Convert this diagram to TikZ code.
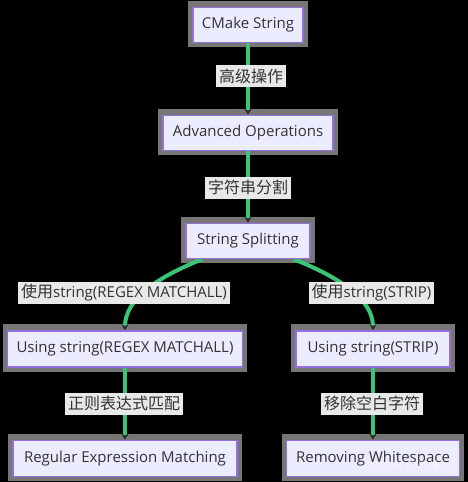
\documentclass[tikz,border=0pt]{standalone}
\usepackage{fontspec}
\setmainfont{Open Sans}
\newfontfamily\cjk{Noto Sans CJK SC}
\usetikzlibrary{arrows.meta}
\pgfdeclarelayer{bg}\pgfdeclarelayer{halo}\pgfdeclarelayer{edges}
\pgfsetlayers{bg,halo,edges,main}
\definecolor{nodefill}{HTML}{ECECFF}
\definecolor{nodeborder}{HTML}{9370DB}
\definecolor{edgegreen}{RGB}{58,196,118}
\definecolor{labelfill}{HTML}{E8E8E8}
\definecolor{halogray}{RGB}{118,118,118}
\definecolor{txt}{HTML}{333333}
\newcommand\cj[1]{{\cjk\fontsize{16}{18}\selectfont #1}}
\tikzset{
  box/.style={draw=nodeborder, line width=1.5pt, fill=nodefill, text=txt,
    font=\fontsize{15}{18}\selectfont, minimum height=35pt, inner sep=0pt},
  lab/.style={fill=labelfill, text=txt, font=\fontsize{15}{18}\selectfont,
    inner xsep=3pt, inner ysep=0pt, minimum height=22pt},
  edge/.style={draw=edgegreen, line width=4pt,
    -{Stealth[length=6pt,width=7pt,color=black!85]}},
}
\begin{document}
\begin{tikzpicture}[x=1pt,y=-1pt]
\useasboundingbox (0,0) rectangle (468,482);
\begin{pgfonlayer}{bg}
\fill[black] (0,0) rectangle (468,482);
\end{pgfonlayer}
% nodes
\node[box, minimum width=110pt] (cm) at (248,25) {CMake String};
\node[box, minimum width=170pt] (ao) at (248,133) {Advanced Operations};
\node[box, minimum width=124pt] (ss) at (248,241) {String Splitting};
\node[box, minimum width=235pt, minimum height=36pt] (ur) at (125,349) {Using string(REGEX MATCHALL)};
\node[box, minimum width=154pt, minimum height=36pt] (us) at (373,349) {Using string(STRIP)};
\node[box, minimum width=224pt, minimum height=36pt] (re) at (125,458.5) {Regular Expression Matching};
\node[box, minimum width=173pt, minimum height=36pt] (rw) at (373,458.5) {Removing Whitespace};
% halos
\begin{pgfonlayer}{halo}
\foreach \n in {cm,ao,ss,ur,us,re,rw}
  \fill[halogray] ([shift={(-4pt,6pt)}]\n.north west) rectangle ([shift={(4pt,-4pt)}]\n.south east);
\end{pgfonlayer}
% labels
\node[lab] (l1) at (251,76) {\cj{高级操作}};
\node[lab] (l2) at (248,187.5) {\cj{字符串分割}};
\node[lab] (l3) at (124,292.5) {\cj{使用}string(REGEX MATCHALL)};
\node[lab] (l4) at (371.5,292.5) {\cj{使用}string(STRIP)};
\node[lab] (l5) at (124,403.5) {\cj{正则表达式匹配}};
\node[lab] (l6) at (372,403.5) {\cj{移除空白字符}};
% edges
\begin{pgfonlayer}{edges}
\draw[edge] (cm) -- (ao);
\draw[edge] (ao) -- (ss);
\draw[edge] (ss) .. controls (155,278) and (125,300) .. (ur);
\draw[edge] (ss) .. controls (341,278) and (373,300) .. (us);
\draw[edge] (ur) -- (re);
\draw[edge] (us) -- (rw);
\end{pgfonlayer}
% watermark
\node[text=white, opacity=0.5, font=\fontsize{12}{14}\selectfont, anchor=east, inner sep=0pt] (wm) at (455,466) {CSDN @{\cjk 泡沫}o0};
\end{tikzpicture}
\end{document}
